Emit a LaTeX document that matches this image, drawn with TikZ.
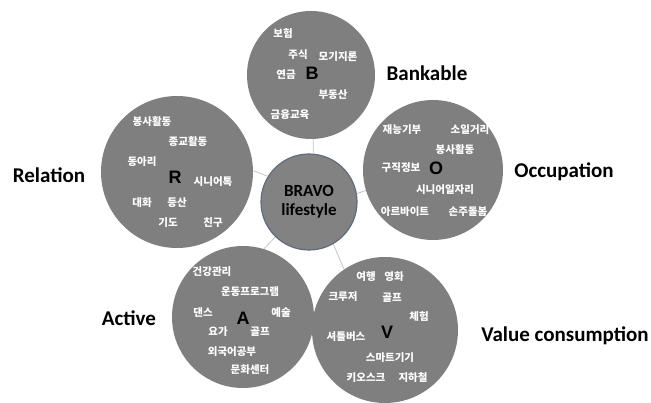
\documentclass[tikz,border=0pt]{standalone}
\usepackage{fontspec}
\setmainfont{Carlito}
\newfontfamily\krfont{Noto Sans CJK KR}
\newfontfamily\letfont{Liberation Sans}
\definecolor{circfill}{HTML}{7F7F7F}
\definecolor{hubfill}{HTML}{828282}
\definecolor{hubline}{HTML}{5E6C7C}
\definecolor{linkgray}{HTML}{C4C4C4}
\tikzset{
  bub/.style={circle, fill=circfill, inner sep=0pt},
  hub/.style={circle, fill=hubfill, draw=hubline, line width=1.2pt, inner sep=0pt,
    minimum size=96pt, align=center, font=\bfseries\fontsize{17}{19}\selectfont},
  link/.style={draw=linkgray, line width=0.8pt},
  kw/.style={text=white, font=\krfont\bfseries\fontsize{10.5}{12}\selectfont, inner sep=0pt},
  letter/.style={font=\letfont\bfseries\fontsize{18}{19}\selectfont, inner sep=0pt},
  lab/.style={font=\bfseries\fontsize{21}{24}\selectfont, inner sep=0pt},
}
\begin{document}
\begin{tikzpicture}[x=1pt,y=-1pt]
\useasboundingbox (0,0) rectangle (651,403);
% circles
\node[bub, minimum size=128pt] (b) at (311,75) {};
\node[bub, minimum size=140pt] (o) at (433,170) {};
\node[bub, minimum size=152pt] (r) at (177,172) {};
\node[bub, minimum size=142pt] (a) at (243,317) {};
\node[bub, minimum size=146pt] (v) at (385,330) {};
\node[hub] (c) at (309,202) {BRAVO\\lifestyle};
% connectors
\draw[link] (c.85) -- (b.272);
\draw[link] (c.10) -- (o.197);
\draw[link] (c.148) -- (r.1);
\draw[link] (c.226) -- (a.73);
\draw[link] (c.300) -- (v.124);
% letters
\node[letter] (lb) at (312,73) {B};
\node[letter] (lo) at (436,168) {O};
\node[letter] (lr) at (175,177) {R};
\node[letter] (la) at (243,318) {A};
\node[letter] (lv) at (387,332) {V};
% labels
\node[lab] (tb) at (427,73) {Bankable};
\node[lab] (to) at (564,172) {Occupation};
\node[lab] (tr) at (49,175) {Relation};
\node[lab] (ta) at (129,318) {Active};
\node[lab] (tv) at (565,336) {Value consumption};
% B keywords
\node[kw] (b1) at (283,33) {보험};
\node[kw] (b2) at (298,55) {주식};
\node[kw] (b3) at (338,57) {모기지론};
\node[kw] (b4) at (286,75) {연금};
\node[kw] (b5) at (333,95) {부동산};
\node[kw] (b6) at (290,115) {금융교육};
% O keywords
\node[kw] (o1) at (402,130) {재능기부};
\node[kw] (o2) at (470,130) {소일거리};
\node[kw] (o3) at (455,150) {봉사활동};
\node[kw] (o4) at (401,168) {구직정보};
\node[kw] (o5) at (445,190) {시니어일자리};
\node[kw] (o6) at (405,212) {아르바이트};
\node[kw] (o7) at (468,212) {손주돌봄};
% R keywords
\node[kw] (r1) at (152,122) {봉사활동};
\node[kw] (r2) at (188,142) {종교활동};
\node[kw] (r3) at (142,162) {동아리};
\node[kw] (r4) at (213,182) {시니어톡};
\node[kw] (r5) at (142,203) {대화};
\node[kw] (r6) at (177,203) {등산};
\node[kw] (r7) at (168,223) {기도};
\node[kw] (r8) at (213,223) {친구};
% A keywords
\node[kw] (a1) at (212,272) {건강관리};
\node[kw] (a2) at (250,292) {운동프로그램};
\node[kw] (a3) at (203,312) {댄스};
\node[kw] (a4) at (281,313) {예술};
\node[kw] (a5) at (218,332) {요가};
\node[kw] (a6) at (260,332) {골프};
\node[kw] (a7) at (232,352) {외국어공부};
\node[kw] (a8) at (250,370) {문화센터};
% V keywords
\node[kw] (v1) at (366,277) {여행};
\node[kw] (v2) at (394,277) {영화};
\node[kw] (v3) at (343,297) {크루저};
\node[kw] (v4) at (392,298) {골프};
\node[kw] (v5) at (419,317) {체험};
\node[kw] (v6) at (346,337) {셔틀버스};
\node[kw] (v7) at (390,358) {스마트기기};
\node[kw] (v8) at (366,378) {키오스크};
\node[kw] (v9) at (413,378) {지하철};
\end{tikzpicture}
\end{document}
